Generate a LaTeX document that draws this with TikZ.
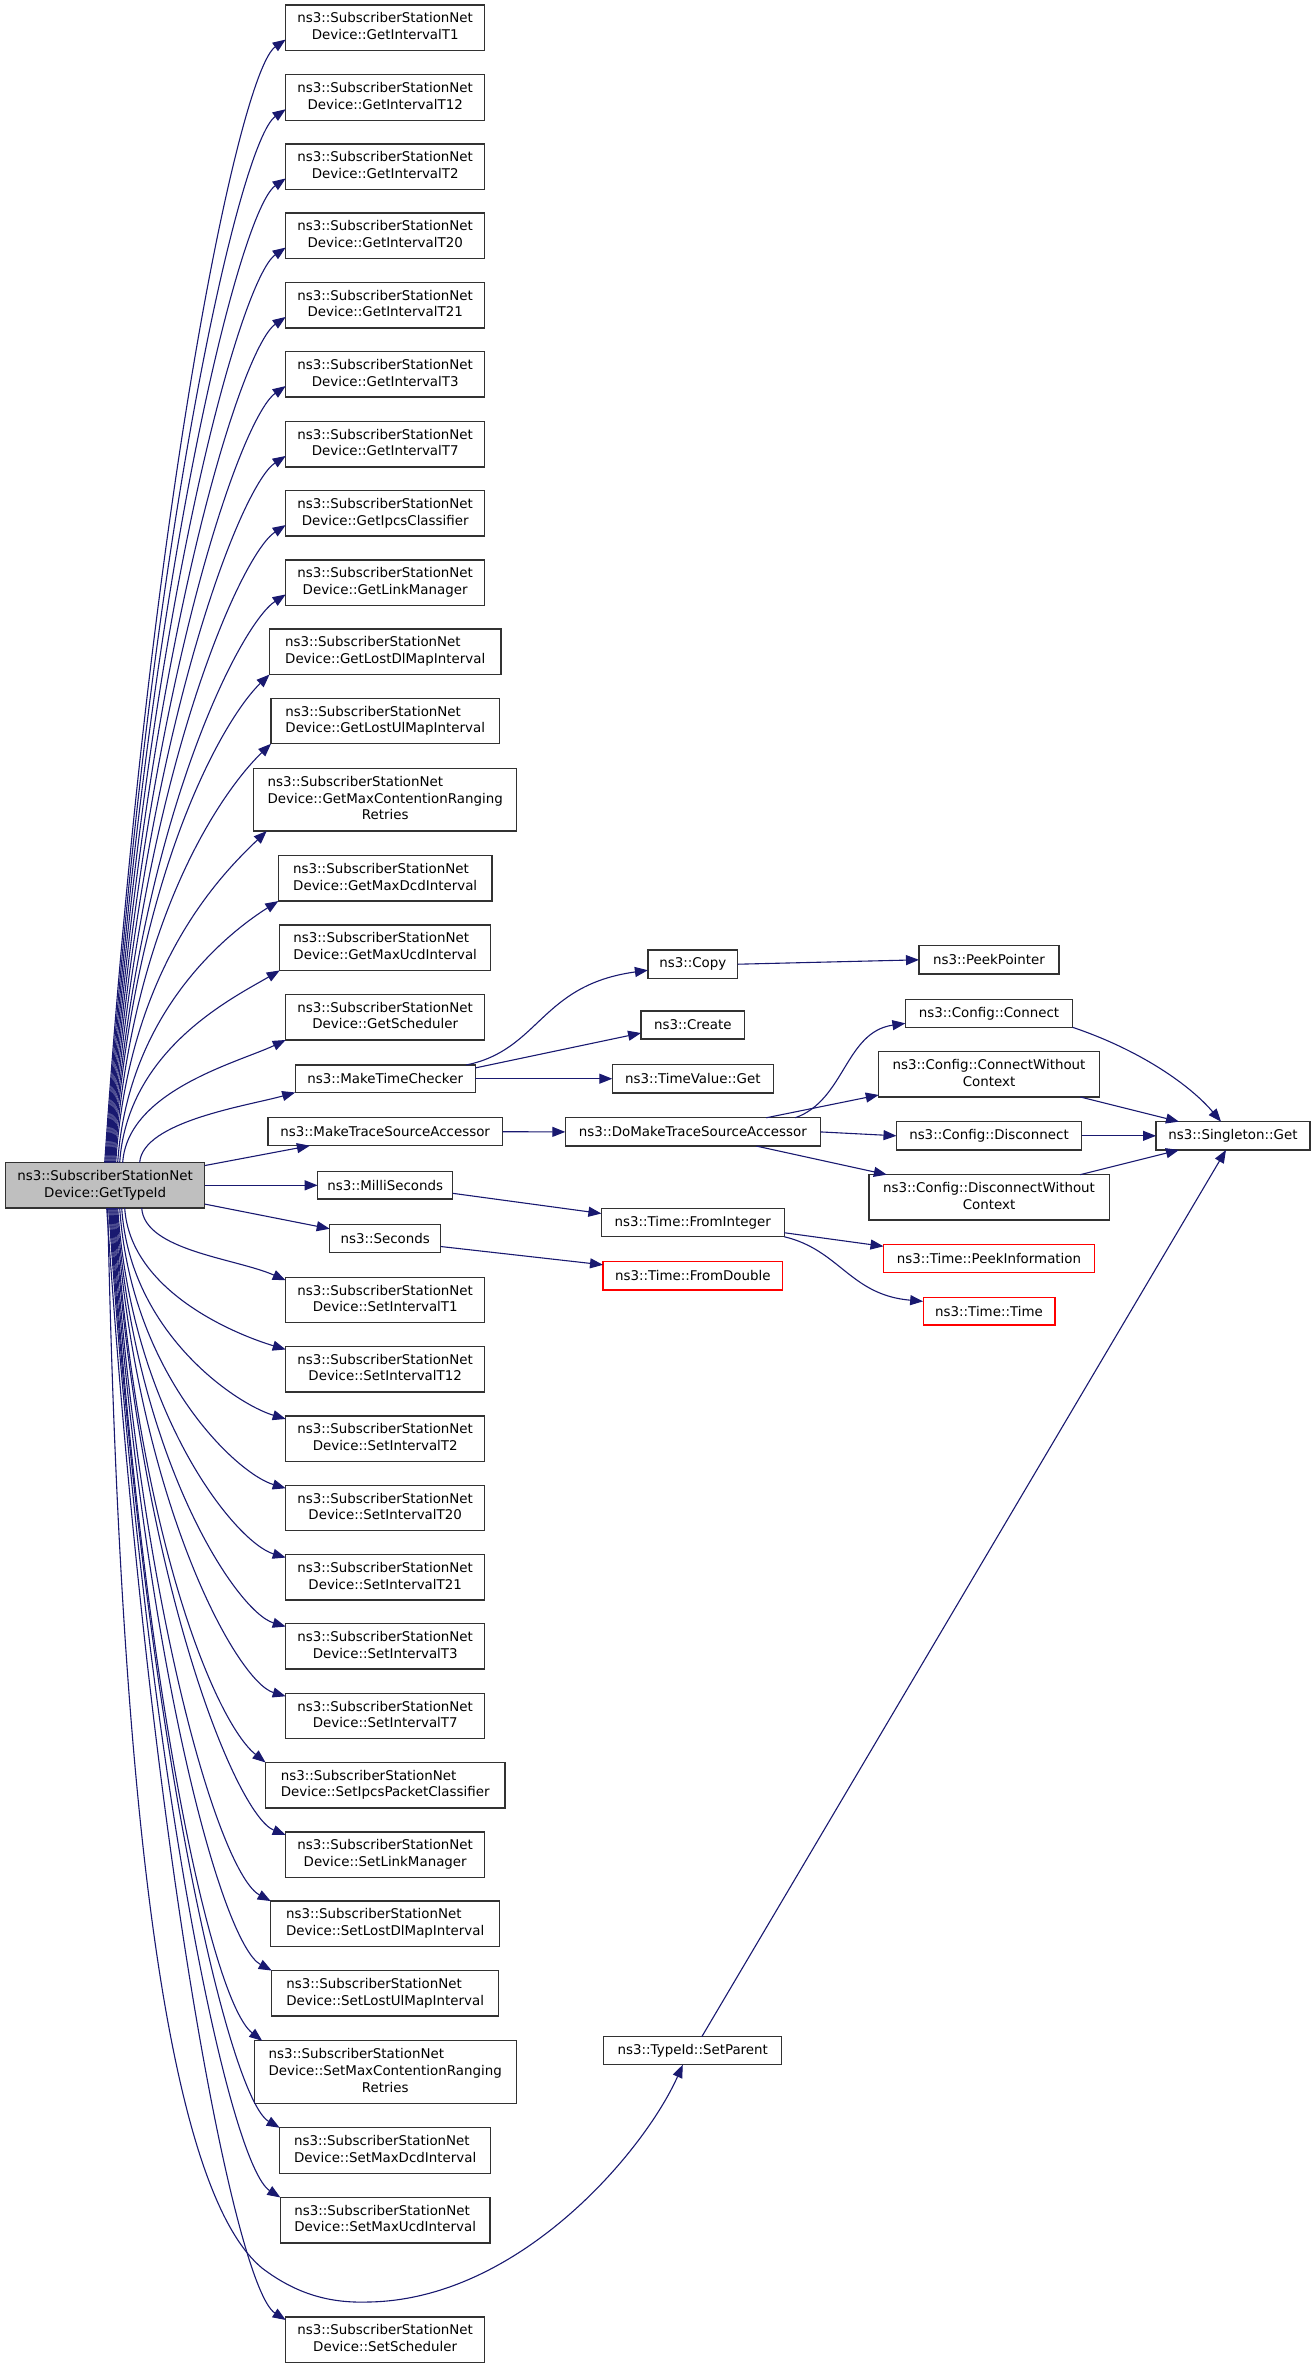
\documentclass[tikz,border=0pt]{standalone}
\usepackage{fontspec}
\newfontfamily\dvsans{DejaVu Sans}
\usetikzlibrary{arrows.meta,calc}
\newcommand\nodefont{\dvsans\fontsize{6.7}{8.35}\selectfont}
\newcommand\twol[2]{\begin{tabular}{@{}l@{}}#1\\\multicolumn{1}{@{}c@{}}{#2}\end{tabular}}
\newcommand\threel[3]{\begin{tabular}{@{}l@{}}#1\\#2\\\multicolumn{1}{@{}c@{}}{#3}\end{tabular}}
\definecolor{edgeblue}{RGB}{25,25,112}
\definecolor{boxline}{RGB}{50,50,50}
\definecolor{mainfill}{RGB}{191,191,191}
\tikzset{
  box/.style={draw=boxline, line width=0.65pt, fill=white, inner sep=0pt, outer sep=0pt, font=\nodefont},
  redbox/.style={box, draw=red},
  sz/.style 2 args={minimum width={#1*0.5pt}, minimum height={#2*0.5pt}},
  conn/.style={draw=edgeblue, line width=0.55pt, -{Triangle[length=6.5pt,width=5pt]}, fill=none}}
\begin{document}
\begin{tikzpicture}[x=0.5pt,y=-0.5pt]
\useasboundingbox (0,0) rectangle (1315,2368);
\def\SSN{ns3::SubscriberStationNet}
% main node
\node[box, fill=mainfill, sz={199}{45.5}] (main) at (105.2,1185.3) {\twol{\SSN}{Device::GetTypeId}};
% upper left column
\node[box, sz={199}{45.5}] (gT1) at (385.2,27.8) {\twol{\SSN}{Device::GetIntervalT1}};
\node[box, sz={199}{45.5}] (gT12) at (385.2,97.5) {\twol{\SSN}{Device::GetIntervalT12}};
\node[box, sz={199}{45.5}] (gT2) at (385.2,166.7) {\twol{\SSN}{Device::GetIntervalT2}};
\node[box, sz={199}{45.5}] (gT20) at (385.2,235.8) {\twol{\SSN}{Device::GetIntervalT20}};
\node[box, sz={199}{45.5}] (gT21) at (385.2,305.2) {\twol{\SSN}{Device::GetIntervalT21}};
\node[box, sz={199}{45.5}] (gT3) at (385.2,374.3) {\twol{\SSN}{Device::GetIntervalT3}};
\node[box, sz={199}{45.5}] (gT7) at (385.2,444.2) {\twol{\SSN}{Device::GetIntervalT7}};
\node[box, sz={199}{45.5}] (gIpcs) at (385.2,513.3) {\twol{\SSN}{Device::GetIpcsClassifier}};
\node[box, sz={199}{45.5}] (gLink) at (385.2,582.7) {\twol{\SSN}{Device::GetLinkManager}};
\node[box, sz={231.4}{45.5}] (gLostDl) at (385.2,651.8) {\twol{\SSN}{Device::GetLostDlMapInterval}};
\node[box, sz={228.3}{45.5}] (gLostUl) at (385.2,721) {\twol{\SSN}{Device::GetLostUlMapInterval}};
\node[box, sz={263}{62.5}] (gMaxCont) at (385.2,799.8) {\threel{\SSN}{Device::GetMaxContentionRanging}{Retries}};
\node[box, sz={213.7}{45.5}] (gMaxDcd) at (385.2,878.3) {\twol{\SSN}{Device::GetMaxDcdInterval}};
\node[box, sz={211}{45.5}] (gMaxUcd) at (385.2,947.7) {\twol{\SSN}{Device::GetMaxUcdInterval}};
\node[box, sz={199}{45.5}] (gSched) at (385.2,1017.2) {\twol{\SSN}{Device::GetScheduler}};
\node[box, sz={180}{27.5}] (mtc) at (385.2,1078.7) {ns3::MakeTimeChecker};
\node[box, sz={234.6}{28}] (mtsa) at (385.2,1131.7) {ns3::MakeTraceSourceAccessor};
\node[box, sz={135}{27.5}] (ms) at (385.2,1185.3) {ns3::MilliSeconds};
\node[box, sz={111}{27.5}] (sec) at (385.2,1238.5) {ns3::Seconds};
% lower left column
\node[box, sz={199}{45.5}] (sT1) at (385.2,1300) {\twol{\SSN}{Device::SetIntervalT1}};
\node[box, sz={199}{45.5}] (sT12) at (385.2,1369.2) {\twol{\SSN}{Device::SetIntervalT12}};
\node[box, sz={199}{45.5}] (sT2) at (385.2,1438.7) {\twol{\SSN}{Device::SetIntervalT2}};
\node[box, sz={199}{45.5}] (sT20) at (385.2,1508) {\twol{\SSN}{Device::SetIntervalT20}};
\node[box, sz={199}{45.5}] (sT21) at (385.2,1577.3) {\twol{\SSN}{Device::SetIntervalT21}};
\node[box, sz={199}{45.5}] (sT3) at (385.2,1646.3) {\twol{\SSN}{Device::SetIntervalT3}};
\node[box, sz={199}{45.5}] (sT7) at (385.2,1716) {\twol{\SSN}{Device::SetIntervalT7}};
\node[box, sz={239.3}{45.5}] (sIpcs) at (385.2,1785.2) {\twol{\SSN}{Device::SetIpcsPacketClassifier}};
\node[box, sz={199}{45.5}] (sLink) at (385.2,1854.7) {\twol{\SSN}{Device::SetLinkManager}};
\node[box, sz={229}{45.5}] (sLostDl) at (385.2,1923.8) {\twol{\SSN}{Device::SetLostDlMapInterval}};
\node[box, sz={227}{45.5}] (sLostUl) at (385.2,1993.3) {\twol{\SSN}{Device::SetLostUlMapInterval}};
\node[box, sz={262}{62.5}] (sMaxCont) at (385.2,2072) {\threel{\SSN}{Device::SetMaxContentionRanging}{Retries}};
\node[box, sz={211}{45.5}] (sMaxDcd) at (385.2,2150.5) {\twol{\SSN}{Device::SetMaxDcdInterval}};
\node[box, sz={209.7}{45.5}] (sMaxUcd) at (385.2,2220.2) {\twol{\SSN}{Device::SetMaxUcdInterval}};
\node[box, sz={199}{45.5}] (sSched) at (385.2,2339.7) {\twol{\SSN}{Device::SetScheduler}};
% middle column
\node[box, sz={89.8}{28.3}] (copy) at (692.8,964.2) {ns3::Copy};
\node[box, sz={103.5}{28}] (create) at (692.8,1025) {ns3::Create};
\node[box, sz={161}{28.7}] (tvget) at (692.8,1078.7) {ns3::TimeValue::Get};
\node[box, sz={255}{28.3}] (domake) at (692.8,1131.9) {ns3::DoMakeTraceSourceAccessor};
\node[box, sz={182.8}{28.4}] (fromint) at (692.8,1222.5) {ns3::Time::FromInteger};
\node[redbox, sz={179.6}{28.3}] (fromdbl) at (692.8,1275.8) {ns3::Time::FromDouble};
\node[box, sz={178}{28}] (setparent) at (692.8,2050.7) {ns3::TypeId::SetParent};
% right columns
\node[box, sz={140}{28.3}] (peek) at (989,959.8) {ns3::PeekPointer};
\node[box, sz={167.2}{28}] (connect) at (989,1013.3) {ns3::Config::Connect};
\node[box, sz={220.5}{45.3}] (cwc) at (989,1074.3) {\twol{ns3::Config::ConnectWithout}{Context}};
\node[box, sz={185}{28.3}] (disconnect) at (989,1135.8) {ns3::Config::Disconnect};
\node[box, sz={240.3}{45.3}] (dwc) at (989,1197.3) {\twol{ns3::Config::DisconnectWithout}{Context}};
\node[redbox, sz={211}{28}] (peekinfo) at (989,1258.3) {ns3::Time::PeekInformation};
\node[redbox, sz={131.7}{27.5}] (timetime) at (989,1311.3) {ns3::Time::Time};
\node[box, sz={154}{28.3}] (singleton) at (1233,1135.8) {ns3::Singleton::Get};
% edges from main to upper column
\foreach \nd/\sx/\ox/\oy/\aa in {gT1/99/0/-11/32, gT12/100/0/-11/32, gT2/101/0/-11/32, gT20/102/0/-11/32, gT21/103/0/-11/32, gT3/104/0/-11/32, gT7/105/0/-11/30, gIpcs/106/0/-11/30, gLink/107/0/-11/30, gLostDl/108/0/0/44, gLostUl/109/0/0/44, gMaxCont/110/13/0/44, gMaxDcd/112/0/0/29, gMaxUcd/114/0/0/27, gSched/117/0/0/22, mtc/134/0/0/13}
{\draw[conn] let \p1=($(main.north west)+(\sx,0)$), \p2=($(\nd.south west)+(\ox,\oy)$), \n1={\y2-\y1} in
  (\p1) .. controls ({\x1+0.04*\n1},{\y2-0.41*\n1}) and ({\x2-23pt},{\y2-\aa*0.5pt}) .. (\p2);}
% edges from main to lower column
\foreach \nd/\sx/\ox/\oy/\bb in {sT1/136/0/3/22, sT12/119/0/3/15, sT2/116/0/3/15, sT20/114/0/3/15, sT21/112/0/3/15, sT3/111/0/3/15, sT7/110/0/3/15, sIpcs/109/0/0/40, sLink/108/0/3/20, sLostDl/107/0/0/27, sLostUl/106/0/0/27, sMaxCont/105/8/0/39, sMaxDcd/104/0/0/29, sMaxUcd/103/0/0/32, sSched/101/0/3/32}
{\draw[conn] let \p1=($(main.south west)+(\sx,0)$), \p2=($(\nd.north west)+(\ox,\oy)$), \n1={\y1-\y2} in
  (\p1) .. controls ({\x1+0.04*\n1},{\y2+0.41*\n1}) and ({\x2-25pt},{\y2+\bb*0.5pt}) .. (\p2);}
% other edges from main
\draw[conn] ($(main.north east)+(0,3)$) -- ($(mtsa.south west)+(42,0)$);
\draw[conn] (main.east) -- (ms.west);
\draw[conn] ($(main.south east)+(0,-4)$) -- ($(sec.north west)+(0,4)$);
\draw[conn] ($(main.south west)+(102,0)$) .. controls (122,1900) and (180,2200) .. (262,2268)
  .. controls (300,2297) and (335,2303) .. (368,2302)
  .. controls (520,2300) and (645,2150) .. ($(setparent.south)+(-10,0)$);
% middle edges
\draw[conn] ($(mtc.north east)+(-9,0)$) .. controls (540,1050) and (540,985) .. ($(copy.west)+(0,6)$);
\draw[conn] ($(mtc.north east)+(0,3)$) -- ($(create.west)+(0,8)$);
\draw[conn] (mtc.east) -- (tvget.west);
\draw[conn] (mtsa.east) -- (domake.west);
\draw[conn] (copy.east) -- (peek.west);
\draw[conn] ($(ms.east)+(0,8)$) -- ($(fromint.west)+(0,-9)$);
\draw[conn] ($(sec.east)+(0,8)$) -- ($(fromdbl.west)+(0,-11)$);
\draw[conn] ($(domake.north east)+(-25,0)$) .. controls (845,1100) and (845,1032) .. ($(connect.west)+(0,10)$);
\draw[conn] ($(domake.north east)+(-54,0)$) -- ($(cwc.south west)+(0,-2)$);
\draw[conn] (domake.east) -- (disconnect.west);
\draw[conn] ($(domake.south east)+(-64,0)$) -- ($(dwc.north west)+(18,0)$);
\draw[conn] ($(fromint.south east)+(0,-4)$) -- ($(peekinfo.west)+(0,-12)$);
\draw[conn] (fromint.south east) .. controls (840,1250) and (850,1295) .. ($(timetime.west)+(0,-10)$);
% edges to singleton
\draw[conn] (connect.south east) .. controls (1140,1050) and (1190,1085) .. ($(singleton.north west)+(65,0)$);
\draw[conn] ($(cwc.south east)+(-19,0)$) -- ($(singleton.north west)+(23,0)$);
\draw[conn] (disconnect.east) -- (singleton.west);
\draw[conn] ($(dwc.north east)+(-29,0)$) -- ($(singleton.south west)+(23,0)$);
\draw[conn] ($(setparent.north)+(9,0)$) -- ($(singleton.south)+(-7,0)$);
\end{tikzpicture}
\end{document}
